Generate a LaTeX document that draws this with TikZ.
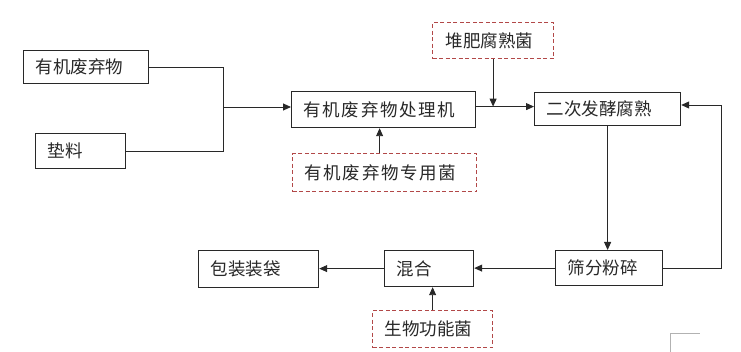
\documentclass[tikz,border=0pt]{standalone}
\usepackage{fontspec}
\setmainfont{Noto Sans CJK SC}
\newfontfamily\cjkwide[LetterSpace=9.5]{Noto Sans CJK SC}
\usetikzlibrary{arrows.meta,calc}
\definecolor{dashred}{RGB}{178,72,72}
\definecolor{ink}{RGB}{40,40,40}
\begin{document}
\begin{tikzpicture}[x=1pt,y=-1pt,
  every node/.style={font=\fontsize{17.5}{20}\selectfont, text=ink},
  box/.style={draw=ink, line width=1.2pt, anchor=north west, inner xsep=12pt, inner ysep=0pt, align=left},
  dbox/.style={box, draw=dashred, dash pattern=on 4pt off 2.5pt},
  conn/.style={draw=ink, line width=0.9pt},
  arr/.style={conn, -{Triangle[length=8pt,width=7pt]}}]
\useasboundingbox (0,0) rectangle (741,352);
% boxes
\node[box, minimum width=125pt, minimum height=33pt, text width=101pt] (A) at (23,50) {有机废弃物};
\node[box, minimum width=90pt, minimum height=35pt, text width=66pt] (B) at (35,133) {垫料};
\node[box, minimum width=184pt, minimum height=36pt, text width=160pt] (C) at (291,91) {\cjkwide 有机废弃物处理机};
\node[box, minimum width=146pt, minimum height=33pt, text width=122pt] (D) at (534,92) {二次发酵腐熟};
\node[dbox, minimum width=121pt, minimum height=36pt, text width=95pt, inner xsep=13pt] (E) at (432,22) {堆肥腐熟菌};
\node[dbox, minimum width=184pt, minimum height=38pt, text width=160pt] (F) at (292,153) {\cjkwide 有机废弃物专用菌};
\node[box, minimum width=107pt, minimum height=35pt, text width=83pt] (G) at (555,250) {筛分粉碎};
\node[box, minimum width=89pt, minimum height=36pt, text width=65pt] (H) at (384,250) {混合};
\node[box, minimum width=120pt, minimum height=37pt, text width=96pt] (I) at (198,250) {包装装袋};
\node[dbox, minimum width=120pt, minimum height=37pt, text width=96pt] (J) at (372,310) {生物功能菌};
% connectors
\coordinate (m) at (223,107);
\draw[conn] (A.east) -| (m);
\draw[conn] (B.east) -| (m);
\draw[arr] (m) -- (m -| C.west);
\coordinate (c1) at ($(C.east)+(0,-3)$);
\draw[arr] (c1) -- (c1 -| D.west);
\draw[arr] (E.south) -- (E.south |- c1);
\draw[arr] ([xshift=-5pt]F.north) -- ([xshift=-5pt]F.north |- C.south);
\draw[arr] (D.south) -- (D.south |- G.north);
\coordinate (fb) at (721,105);
\draw[conn] (G.east) -| (fb);
\draw[arr] (fb) -- (fb -| D.east);
\draw[arr] (G.west) -- (G.west -| H.east);
\draw[arr] (H.west) -- (H.west -| I.east);
\draw[arr] (J.north) -- (J.north |- H.south);
% page corner mark
\draw[gray!60, line width=1pt] (670,352) -- (670,333) -- (700,333);
\end{tikzpicture}
\end{document}
